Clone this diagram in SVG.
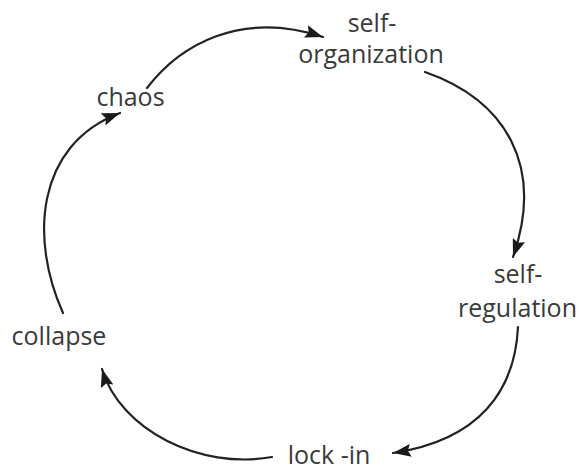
<svg xmlns="http://www.w3.org/2000/svg" width="583" height="470" viewBox="0 0 583 470">
<style>
.lbl{font-family:"Open Sans","Liberation Sans",sans-serif;font-size:25px;fill:#3a3a3a;text-anchor:middle}
.c{fill:none;stroke:#222;stroke-width:2.2;stroke-linecap:round}
</style>
<defs>
<marker id="ah" markerUnits="userSpaceOnUse" markerWidth="19" markerHeight="13" viewBox="0 0 19 13" refX="18" refY="6.5" orient="auto">
<path d="M0,0 L18,6.5 L0,13 L3,6.5 z" fill="#1a1a1a"/>
</marker>
</defs>
<rect width="583" height="470" fill="#fff"/>
<g id="connectors">
<path class="c" d="M147,88 C180,45 240,10 323,37" marker-end="url(#ah)"/>
<path class="c" d="M425,72 C505,100 545,165 513,257" marker-end="url(#ah)"/>
<path class="c" d="M518,327 C515,390 480,440 393,453" marker-end="url(#ah)"/>
<path class="c" d="M272,457 C200,470 120,430 102,369" marker-end="url(#ah)"/>
<path class="c" d="M63,313 C30,240 35,145 120,113" marker-end="url(#ah)"/>
</g>
<g id="chaos"><text class="lbl" x="130.5" y="106">chaos</text></g>
<g id="self-organization"><text class="lbl" x="372" y="32">self-</text><text class="lbl" x="371" y="63">organization</text></g>
<g id="self-regulation"><text class="lbl" x="518" y="283">self-</text><text class="lbl" x="517.5" y="317">regulation</text></g>
<g id="lock-in"><text class="lbl" x="329" y="464">lock -in</text></g>
<g id="collapse"><text class="lbl" x="59" y="345">collapse</text></g>
</svg>
